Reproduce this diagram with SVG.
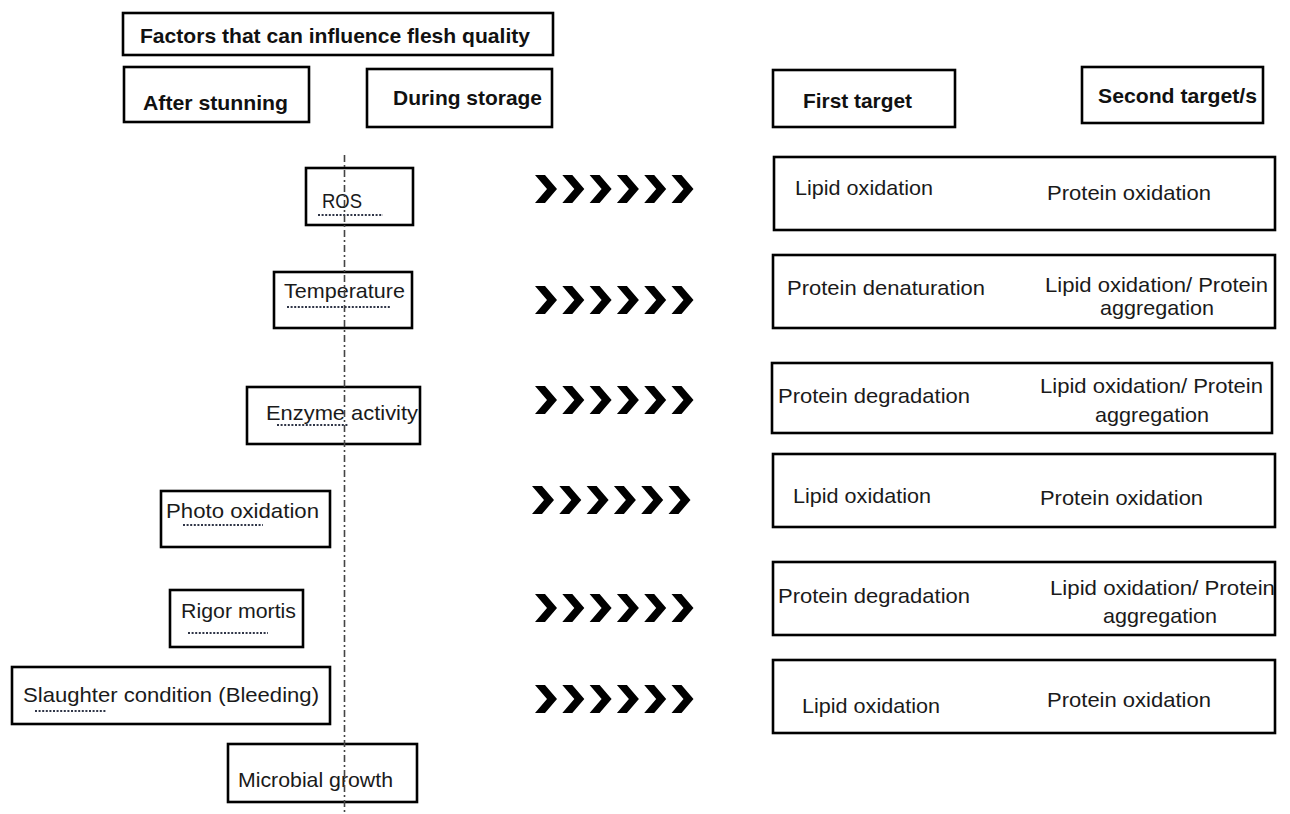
<svg xmlns="http://www.w3.org/2000/svg" xmlns:xlink="http://www.w3.org/1999/xlink" width="1290" height="814" viewBox="0 0 1290 814">
<style>
.box{fill:#fff;stroke:#000;stroke-width:2.6}
.t{font-family:"Liberation Sans",Arial,sans-serif;font-size:21px;fill:#1a1a1a}
.b{font-family:"Liberation Sans",Arial,sans-serif;font-size:21px;font-weight:bold;fill:#111}
.ul{stroke:#2f3547;stroke-width:2;stroke-dasharray:2 1.6;fill:none}
.axis{stroke:#444;stroke-width:1.6;stroke-dasharray:7 3 2 3;fill:none}
.chev{fill:#000}
</style>
<defs>
<path id="chev" d="M0,-14 L10,-14 L22,0 L10,14 L0,14 L12,0 Z"/>
<g id="chevrow">
<use xlink:href="#chev" x="0"/>
<use xlink:href="#chev" x="27.3"/>
<use xlink:href="#chev" x="54.6"/>
<use xlink:href="#chev" x="81.9"/>
<use xlink:href="#chev" x="109.2"/>
<use xlink:href="#chev" x="136.5"/>
</g>
</defs>
<rect width="1290" height="814" fill="#fff"/>

<g id="title">
<rect class="box" x="123" y="13" width="430" height="42"/>
<text class="b" x="140" y="43" textLength="390" lengthAdjust="spacingAndGlyphs">Factors that can influence flesh quality</text>
</g>
<g id="after-stunning">
<rect class="box" x="124" y="67" width="185" height="55"/>
<text class="b" x="143" y="110" textLength="145" lengthAdjust="spacingAndGlyphs">After stunning</text>
</g>
<g id="during-storage">
<rect class="box" x="367" y="69" width="185" height="58"/>
<text class="b" x="393" y="105" textLength="149" lengthAdjust="spacingAndGlyphs">During storage</text>
</g>
<g id="first-target">
<rect class="box" x="773" y="70" width="182" height="57"/>
<text class="b" x="803" y="108" textLength="109" lengthAdjust="spacingAndGlyphs">First target</text>
</g>
<g id="second-target">
<rect class="box" x="1082" y="67" width="181" height="56"/>
<text class="b" x="1098" y="103" textLength="159" lengthAdjust="spacingAndGlyphs">Second target/s</text>
</g>

<g id="ros">
<rect class="box" x="306" y="168" width="107" height="57"/>
<text class="t" x="322" y="208" textLength="40" lengthAdjust="spacingAndGlyphs">ROS</text>
<line class="ul" x1="318" y1="215" x2="383" y2="215"/>
</g>
<g id="temperature">
<rect class="box" x="274" y="272" width="138" height="56"/>
<text class="t" x="284" y="298" textLength="121" lengthAdjust="spacingAndGlyphs">Temperature</text>
<line class="ul" x1="287" y1="307" x2="390" y2="307"/>
</g>
<g id="enzyme-activity">
<rect class="box" x="247" y="387" width="173" height="57"/>
<text class="t" x="266" y="420" textLength="152" lengthAdjust="spacingAndGlyphs">Enzyme activity</text>
<line class="ul" x1="277" y1="425" x2="348" y2="425"/>
</g>
<g id="photo-oxidation">
<rect class="box" x="161" y="491" width="169" height="56"/>
<text class="t" x="166" y="518" textLength="153" lengthAdjust="spacingAndGlyphs">Photo oxidation</text>
<line class="ul" x1="183" y1="525" x2="263" y2="525"/>
</g>
<g id="rigor-mortis">
<rect class="box" x="170" y="590" width="133" height="57"/>
<text class="t" x="181" y="618" textLength="115" lengthAdjust="spacingAndGlyphs">Rigor mortis</text>
<line class="ul" x1="188" y1="633" x2="268" y2="633"/>
</g>
<g id="slaughter-condition">
<rect class="box" x="12" y="667" width="318" height="57"/>
<text class="t" x="23" y="702" textLength="296" lengthAdjust="spacingAndGlyphs">Slaughter condition (Bleeding)</text>
<line class="ul" x1="35" y1="711" x2="107" y2="711"/>
</g>
<g id="microbial-growth">
<rect class="box" x="228" y="744" width="189" height="58"/>
<text class="t" x="238" y="787" textLength="155" lengthAdjust="spacingAndGlyphs">Microbial growth</text>
</g>

<g id="divider">
<line class="axis" x1="344.5" y1="155" x2="344.5" y2="814"/>
</g>

<g id="connectors" class="chev">
<use xlink:href="#chevrow" x="535" y="189"/>
<use xlink:href="#chevrow" x="535" y="300"/>
<use xlink:href="#chevrow" x="535" y="400"/>
<use xlink:href="#chevrow" x="532" y="500"/>
<use xlink:href="#chevrow" x="535" y="608"/>
<use xlink:href="#chevrow" x="535" y="699"/>
</g>

<g id="target-row1">
<rect class="box" x="774" y="157" width="501" height="73"/>
<text class="t" x="795" y="195" textLength="138" lengthAdjust="spacingAndGlyphs">Lipid oxidation</text>
<text class="t" x="1047" y="200" textLength="164" lengthAdjust="spacingAndGlyphs">Protein oxidation</text>
</g>
<g id="target-row2">
<rect class="box" x="773" y="255" width="502" height="73"/>
<text class="t" x="787" y="295" textLength="198" lengthAdjust="spacingAndGlyphs">Protein denaturation</text>
<text class="t" x="1045" y="292" textLength="223" lengthAdjust="spacingAndGlyphs">Lipid oxidation/ Protein</text>
<text class="t" x="1100" y="315" textLength="114" lengthAdjust="spacingAndGlyphs">aggregation</text>
</g>
<g id="target-row3">
<rect class="box" x="772" y="363" width="500" height="70"/>
<text class="t" x="778" y="403" textLength="192" lengthAdjust="spacingAndGlyphs">Protein degradation</text>
<text class="t" x="1040" y="393" textLength="223" lengthAdjust="spacingAndGlyphs">Lipid oxidation/ Protein</text>
<text class="t" x="1095" y="422" textLength="114" lengthAdjust="spacingAndGlyphs">aggregation</text>
</g>
<g id="target-row4">
<rect class="box" x="773" y="454" width="502" height="73"/>
<text class="t" x="793" y="503" textLength="138" lengthAdjust="spacingAndGlyphs">Lipid oxidation</text>
<text class="t" x="1040" y="505" textLength="163" lengthAdjust="spacingAndGlyphs">Protein oxidation</text>
</g>
<g id="target-row5">
<rect class="box" x="773" y="562" width="502" height="73"/>
<text class="t" x="778" y="603" textLength="192" lengthAdjust="spacingAndGlyphs">Protein degradation</text>
<text class="t" x="1050" y="595" textLength="225" lengthAdjust="spacingAndGlyphs">Lipid oxidation/ Protein</text>
<text class="t" x="1103" y="623" textLength="114" lengthAdjust="spacingAndGlyphs">aggregation</text>
</g>
<g id="target-row6">
<rect class="box" x="773" y="660" width="502" height="73"/>
<text class="t" x="802" y="713" textLength="138" lengthAdjust="spacingAndGlyphs">Lipid oxidation</text>
<text class="t" x="1047" y="707" textLength="164" lengthAdjust="spacingAndGlyphs">Protein oxidation</text>
</g>
</svg>
